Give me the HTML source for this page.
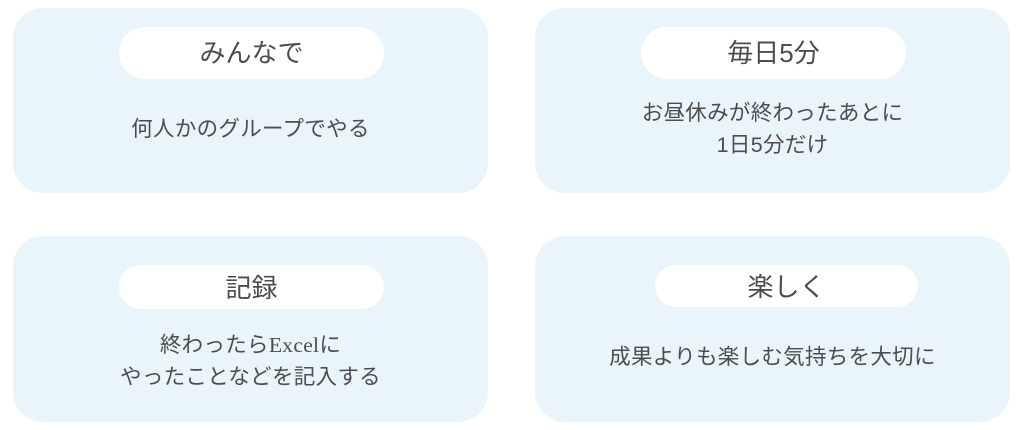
<!DOCTYPE html>
<html><head><meta charset="utf-8"><style>
body{margin:0;width:1024px;height:430px;background:#fff;font-family:"Liberation Sans","Noto Sans CJK JP",sans-serif;color:#4d4d4d;position:relative;overflow:hidden}
.c{position:absolute;background:#e9f5fa;border-radius:30px;width:475px;height:185px}
.p{position:absolute;background:#fff;border-radius:26px;font-size:26px;text-align:center}
.t{position:absolute;left:0;width:100%;text-align:center;font-size:21.5px;line-height:32px;letter-spacing:0.3px}
</style></head><body>
<div class="c" style="left:13px;top:8px">
 <div class="p" style="left:106px;top:19px;width:265px;height:52px;line-height:53px">みんなで</div>
 <div class="t" style="top:105px">何人かのグループでやる</div>
</div>
<div class="c" style="left:535px;top:8px">
 <div class="p" style="left:106px;top:19px;width:265px;height:52px;line-height:53px">毎日5分</div>
 <div class="t" style="top:89px">お昼休みが終わったあとに<br>1日5分だけ</div>
</div>
<div class="c" style="left:13px;top:236px;height:186px">
 <div class="p" style="left:106px;top:29px;width:265px;height:44px;line-height:46px">記録</div>
 <div class="t" style="top:93px">終わったら<span style="font-family:'Liberation Serif',serif">Excel</span>に<br>やったことなどを記入する</div>
</div>
<div class="c" style="left:535px;top:236px;height:186px">
 <div class="p" style="left:120px;top:29px;width:263px;height:42px;line-height:44px">楽しく</div>
 <div class="t" style="top:105px">成果よりも楽しむ気持ちを大切に</div>
</div>
</body></html>
